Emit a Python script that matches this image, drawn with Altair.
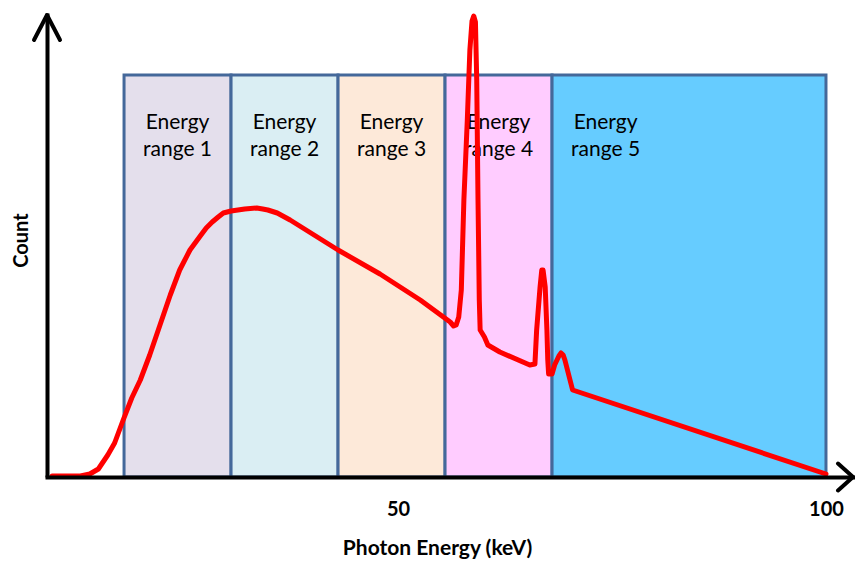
import altair as alt
import pandas as pd

# ---- data ----
energy = [9.6, 12.9, 14.0, 15.0, 16.1, 16.9, 17.9, 18.9, 19.9, 21.0, 22.2, 23.4, 24.5, 25.7,
          26.9, 27.6, 28.3, 29.0, 29.6, 30.5, 31.3, 32.1, 33.5, 34.2, 34.8, 35.9, 37.4, 43.0,
          47.9, 52.6, 56.1, 56.5, 56.8, 57.1, 57.4, 57.7, 58.1, 58.4, 58.65, 58.85, 59.05,
          59.2, 59.35, 59.5, 59.6, 60.1, 60.5, 61.9, 65.4, 66.0, 66.2, 66.6, 66.8, 66.95,
          67.2, 67.4, 67.5, 67.6, 68.0, 68.3, 68.8, 69.05, 69.3, 69.5, 70.1, 70.4, 100.0]
count = [1, 1, 3, 8, 22, 34, 57, 79, 97, 122, 152, 182, 207, 227,
         241, 249, 255, 260, 264, 266, 267, 268, 269, 268, 267, 264, 257, 227,
         203, 177, 155, 151, 152, 160, 187, 277, 357, 427, 456, 461, 455,
         397, 277, 177, 147, 140, 132, 125, 112, 113, 147, 190, 207, 207,
         190, 147, 117, 103, 103, 112, 121, 124, 122, 117, 97, 87, 3]

band_start = [18.0, 30.5, 43.0, 55.5, 68.0]
band_end = [30.5, 43.0, 55.5, 68.0, 100.0]
band_label = ["Energy\nrange 1", "Energy\nrange 2", "Energy\nrange 3", "Energy\nrange 4", "Energy\nrange 5"]
label_x = [24.25, 36.75, 49.25, 61.75, 74.25]
band_color = ["#e4dfec", "#daeef3", "#fde9d9", "#ffccff", "#66ccff"]
band_top = 402

x_ticks = [50, 100]
x_domain = [9.0, 103.39]
y_domain = [0, 464]

FONT = "Lato"

spectrum = pd.DataFrame({"energy": energy, "count": count})
bands = pd.DataFrame({"start": band_start, "end": band_end, "label": band_label,
                      "lx": label_x, "color": band_color,
                      "top": [band_top] * len(band_start),
                      "bottom": [0] * len(band_start)})

xscale = alt.Scale(domain=x_domain, nice=False, zero=False)
yscale = alt.Scale(domain=y_domain, nice=False, zero=False)

x_axis = alt.Axis(values=x_ticks, grid=False, ticks=False, tickSize=0, labelPadding=32,
                  labelBaseline="middle", labelFont=FONT, labelFontSize=20,
                  labelFontWeight="bold", labelColor="black", domainColor="black",
                  domainWidth=4, domainCap="square", title="Photon Energy (keV)",
                  titleFont=FONT, titleFontSize=21, titleFontWeight="bold",
                  titleColor="black", titleX=390, titleY=77, titleAlign="center",
                  titleBaseline="alphabetic", zindex=1)
y_axis = alt.Axis(labels=False, ticks=False, tickSize=0, grid=False, domainColor="black",
                  domainWidth=4, title="Count", titleFont=FONT, titleFontSize=20,
                  titleFontWeight="bold", titleColor="black", titleAngle=270,
                  titleX=-26, titleY=227, titleAlign="center", titleBaseline="middle",
                  zindex=1)

rects = alt.Chart(bands).mark_rect(stroke="#44689a", strokeWidth=3).encode(
    x=alt.X("start:Q", scale=xscale, axis=x_axis),
    x2="end:Q",
    y=alt.Y("top:Q", scale=yscale, axis=y_axis),
    y2="bottom:Q",
    fill=alt.Fill("color:N", scale=None),
)

labels = alt.Chart(bands).mark_text(
    font=FONT, fontSize=21, color="black", lineBreak="\n", lineHeight=27,
    align="center", baseline="alphabetic").encode(
    x=alt.X("lx:Q", scale=xscale),
    y=alt.value(116),
    text="label:N",
)

curve = alt.Chart(spectrum).mark_line(color="#ff0000", strokeWidth=5, interpolate="linear",
                                      strokeCap="round", strokeJoin="round").encode(
    x=alt.X("energy:Q", scale=xscale),
    y=alt.Y("count:Q", scale=yscale),
)

dummy = alt.Data(values=[{"a": 1}])
arrow_up = alt.Chart(dummy).mark_point(
    shape="M-0.52,1L0,0L0.52,1", size=2500, filled=False, stroke="black",
    strokeWidth=4, strokeCap="round", strokeJoin="round", opacity=1
).encode(x=alt.value(0), y=alt.value(2))
arrow_right = alt.Chart(dummy).mark_point(
    shape="M-0.6,-0.54L0,0L-0.6,0.54", size=2500, filled=False, stroke="black",
    strokeWidth=4, strokeCap="round", strokeJoin="round", opacity=1
).encode(x=alt.value(806), y=alt.value(464))

chart = alt.layer(rects, labels, curve, arrow_up, arrow_right).properties(
    width=808, height=464,
    autosize=alt.AutoSizeParams(type="none"),
    padding={"left": 39, "top": 5, "right": 0, "bottom": 82},
).configure_view(stroke=None)

chart.save("out.html", embed_options={"renderer": "svg", "actions": False})
